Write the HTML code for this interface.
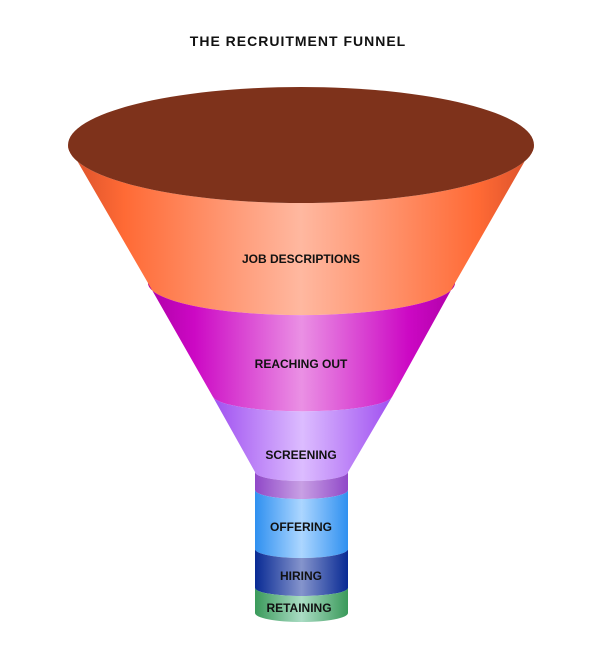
<!DOCTYPE html>
<html><head><meta charset="utf-8"><style>
html,body{margin:0;padding:0;background:#fff;width:604px;height:667px;overflow:hidden}
text{font-family:"Liberation Sans",sans-serif;font-weight:bold;fill:#111;text-anchor:middle}
</style></head><body>
<svg width="604" height="667" viewBox="0 0 604 667">
<defs>
<linearGradient id="g1" x1="0" x2="1"><stop offset="0" stop-color="#d8502a"/><stop offset="0.12" stop-color="#ff6a35"/><stop offset="0.5" stop-color="#ffb8a0"/><stop offset="0.88" stop-color="#ff6a35"/><stop offset="1" stop-color="#d8502a"/></linearGradient>
<linearGradient id="g2" x1="0" x2="1"><stop offset="0" stop-color="#b000a8"/><stop offset="0.15" stop-color="#cc08c4"/><stop offset="0.5" stop-color="#ea90e4"/><stop offset="0.85" stop-color="#cc08c4"/><stop offset="1" stop-color="#b000a8"/></linearGradient>
<linearGradient id="g3" x1="0" x2="1"><stop offset="0" stop-color="#a050f0"/><stop offset="0.5" stop-color="#dcbcff"/><stop offset="1" stop-color="#a050f0"/></linearGradient>
<linearGradient id="g3b" x1="0" x2="1"><stop offset="0" stop-color="#9048c8"/><stop offset="0.5" stop-color="#c8a0e4"/><stop offset="1" stop-color="#9048c8"/></linearGradient>
<linearGradient id="g4" x1="0" x2="1"><stop offset="0" stop-color="#2f90f0"/><stop offset="0.5" stop-color="#acd6ff"/><stop offset="1" stop-color="#2f90f0"/></linearGradient>
<linearGradient id="g5" x1="0" x2="1"><stop offset="0" stop-color="#082a94"/><stop offset="0.5" stop-color="#8594cc"/><stop offset="1" stop-color="#082a94"/></linearGradient>
<linearGradient id="g6" x1="0" x2="1"><stop offset="0" stop-color="#3a9a5a"/><stop offset="0.5" stop-color="#aadcc4"/><stop offset="1" stop-color="#3a9a5a"/></linearGradient>
</defs>
<text x="298" y="46" font-size="14" letter-spacing="1">THE RECRUITMENT FUNNEL</text>
<!-- band 1 -->
<path d="M68 145 A233 58 0 0 0 534 145 L455 283 A153 32 0 0 1 148 283 Z" fill="url(#g1)"/>
<path d="M148 283 A153 32 0 0 0 455 283 L392 397 A90 16 0 0 1 213 397 Z" fill="url(#g2)"/>
<path d="M213 397 A90 16 0 0 0 392 397 L348 472 A46.5 9 0 0 1 255 472 Z" fill="url(#g3)"/>
<path d="M255 472 A46.5 9 0 0 0 348 472 L348 490 A46.5 9 0 0 1 255 490 Z" fill="url(#g3b)"/>
<path d="M255 490 A46.5 9 0 0 0 348 490 L348 549 A46.5 9 0 0 1 255 549 Z" fill="url(#g4)"/>
<path d="M255 549 A46.5 9 0 0 0 348 549 L348 588 A46.5 8 0 0 1 255 588 Z" fill="url(#g5)"/>
<path d="M255 588 A46.5 8 0 0 0 348 588 L348 613 A46.5 9 0 0 1 255 613 Z" fill="url(#g6)"/>
<ellipse cx="301" cy="145" rx="233" ry="58" fill="#7e321b"/>
<text x="301" y="263" font-size="12">JOB DESCRIPTIONS</text>
<text x="301" y="368" font-size="12">REACHING OUT</text>
<text x="301" y="459" font-size="12">SCREENING</text>
<text x="301" y="531" font-size="12">OFFERING</text>
<text x="301" y="580" font-size="12">HIRING</text>
<text x="299" y="612" font-size="12">RETAINING</text>
</svg>
</body></html>
